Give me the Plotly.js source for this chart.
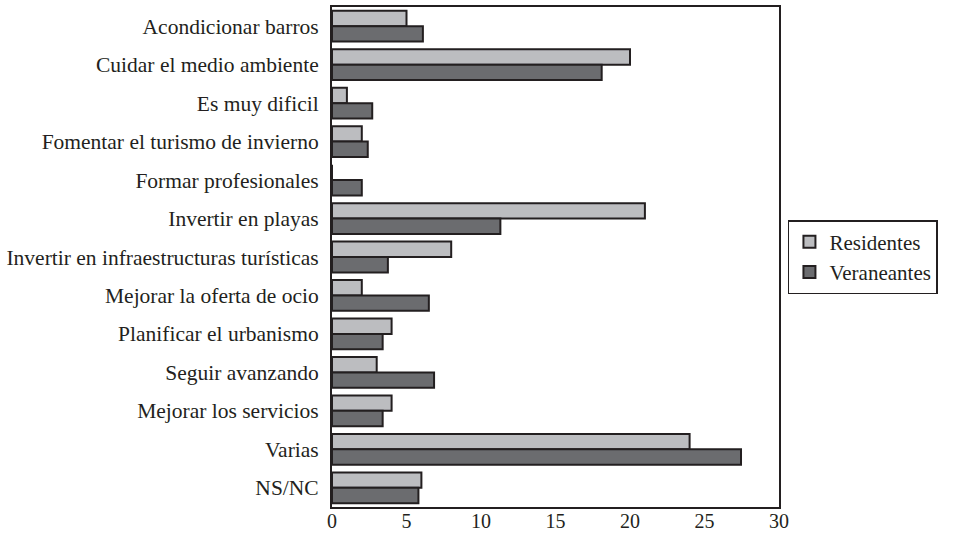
<!DOCTYPE html>
<html><head><meta charset="utf-8">
<script src="https://cdn.plot.ly/plotly-3.0.1.min.js"></script>
<style>body{margin:0;padding:0;background:#fff}#chart{width:959px;height:537px}</style>
</head><body><div id="chart"></div>
<script>
const categories = ["Acondicionar barros","Cuidar el medio ambiente","Es muy dificil","Fomentar el turismo de invierno","Formar profesionales","Invertir en playas","Invertir en infraestructuras turísticas","Mejorar la oferta de ocio","Planificar el urbanismo","Seguir avanzando","Mejorar los servicios","Varias","NS/NC"];
const residentes = [5, 20, 1, 2, 0, 21, 8, 2, 4, 3, 4, 24, 6];
const veraneantes = [6.1, 18.1, 2.7, 2.4, 2, 11.3, 3.75, 6.5, 3.4, 6.85, 3.4, 27.45, 5.8];
const xTicks = [0,5,10,15,20,25,30];

const traces = [
  {type:'bar', orientation:'h', name:'Residentes', y:categories, x:residentes,
   marker:{color:'#bcbdc0', line:{color:'#231f20', width:2}}},
  {type:'bar', orientation:'h', name:'Veraneantes', y:categories, x:veraneantes,
   marker:{color:'#6b6c6f', line:{color:'#231f20', width:2}}}
];
const layout = {
  width:959, height:537,
  margin:{l:332, r:180, t:7, b:30, pad:0},
  paper_bgcolor:'#fff', plot_bgcolor:'#fff',
  font:{family:'Liberation Serif, Times New Roman, serif', size:21.5, color:'#231f20'},
  barmode:'group', bargap:0.2, bargroupgap:0,
  showlegend:true,
  legend:{x:1.02, xanchor:'left', y:0.5, yanchor:'middle', traceorder:'normal',
          bordercolor:'#231f20', borderwidth:1.5, bgcolor:'#fff',
          font:{size:21}, itemwidth:30, tracegroupgap:0},
  xaxis:{range:[0,30], tickvals:xTicks, ticktext:xTicks.map(String), showgrid:false, zeroline:false,
         showline:true, linecolor:'#231f20', linewidth:2, mirror:true, ticks:'', fixedrange:true,
         ticklabelstandoff:-5, tickfont:{size:20}},
  yaxis:{type:'category', autorange:'reversed', showgrid:false, zeroline:false,
         showline:true, linecolor:'#231f20', linewidth:2, mirror:true, ticks:'', ticklabelstandoff:7}
};
Plotly.newPlot('chart', traces, layout, {displayModeBar:false, staticPlot:true});
</script></body></html>
